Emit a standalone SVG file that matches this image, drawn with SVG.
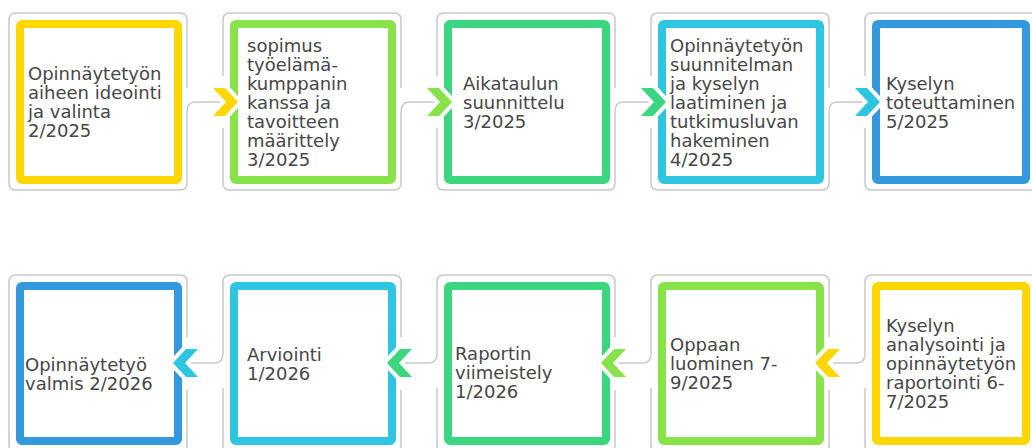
<svg xmlns="http://www.w3.org/2000/svg" width="1032" height="448" viewBox="0 0 1032 448">
<style>
.frame{fill:none;stroke:#c8c8c8;stroke-width:1.5}
.box{fill:#fff;stroke-width:8}
.lbl{font-family:"DejaVu Sans",sans-serif;font-size:18px;fill:#474747}
.line{fill:none;stroke:#c8c8c8;stroke-width:1.5}
.chev{stroke:#fff;stroke-width:8;stroke-linejoin:round;paint-order:stroke}
.yel{stroke:#FFD700}.lgr{stroke:#88E24A}.grn{stroke:#3DD680}.cya{stroke:#2DC5E0}.blu{stroke:#3498DC}
</style>
<rect width="1032" height="448" fill="#fff"/>
<g id="node-ideointi">
<rect class="box yel" x="20" y="24" width="158" height="156" rx="2"/>
<path class="frame" d="M187,88 L187,20 Q187,13 180,13 L16,13 Q9,13 9,20 L9,183 Q9,190 16,190 L180,190 Q187,190 187,183 L187,112"/>
<text class="lbl" x="28" y="80"><tspan x="28">Opinnäytetyön</tspan><tspan x="28" dy="19">aiheen ideointi</tspan><tspan x="28" dy="19">ja valinta</tspan><tspan x="28" dy="19">2/2025</tspan></text>
</g>
<g id="node-sopimus">
<rect class="box lgr" x="234" y="24" width="158" height="156" rx="2"/>
<path class="frame" d="M401,88 L401,20 Q401,13 394,13 L230,13 Q223,13 223,20 L223,76 M223,128 L223,183 Q223,190 230,190 L394,190 Q401,190 401,183 L401,112"/>
<text class="lbl" x="247" y="51.5"><tspan x="247">sopimus</tspan><tspan x="247" dy="19">työelämä-</tspan><tspan x="247" dy="19">kumppanin</tspan><tspan x="247" dy="19">kanssa ja</tspan><tspan x="247" dy="19">tavoitteen</tspan><tspan x="247" dy="19">määrittely</tspan><tspan x="247" dy="19">3/2025</tspan></text>
</g>
<g id="node-aikataulu">
<rect class="box grn" x="448" y="24" width="158" height="156" rx="2"/>
<path class="frame" d="M615,88 L615,20 Q615,13 608,13 L444,13 Q437,13 437,20 L437,76 M437,128 L437,183 Q437,190 444,190 L608,190 Q615,190 615,183 L615,112"/>
<text class="lbl" x="463" y="89.5"><tspan x="463">Aikataulun</tspan><tspan x="463" dy="19">suunnittelu</tspan><tspan x="463" dy="19">3/2025</tspan></text>
</g>
<g id="node-suunnitelma">
<rect class="box cya" x="662" y="24" width="158" height="156" rx="2"/>
<path class="frame" d="M829,88 L829,20 Q829,13 822,13 L658,13 Q651,13 651,20 L651,76 M651,128 L651,183 Q651,190 658,190 L822,190 Q829,190 829,183 L829,112"/>
<text class="lbl" x="670" y="51.5"><tspan x="670">Opinnäytetyön</tspan><tspan x="670" dy="19">suunnitelman</tspan><tspan x="670" dy="19">ja kyselyn</tspan><tspan x="670" dy="19">laatiminen ja</tspan><tspan x="670" dy="19">tutkimusluvan</tspan><tspan x="670" dy="19">hakeminen</tspan><tspan x="670" dy="19">4/2025</tspan></text>
</g>
<g id="node-toteutus">
<rect class="box blu" x="876" y="24" width="150" height="156" rx="2"/>
<path class="frame" d="M865,76 L865,20 Q865,13 872,13 L1030,13 Q1037,13 1037,20 L1037,183 Q1037,190 1030,190 L872,190 Q865,190 865,183 L865,128"/>
<text class="lbl" x="886" y="89.5"><tspan x="886">Kyselyn</tspan><tspan x="886" dy="19">toteuttaminen</tspan><tspan x="886" dy="19">5/2025</tspan></text>
</g>
<g id="node-valmis">
<rect class="box blu" x="20" y="286" width="158" height="155" rx="2"/>
<path class="frame" d="M187,390 L187,445 Q187,452 180,452 L16,452 Q9,452 9,445 L9,282 Q9,275 16,275 L180,275 Q187,275 187,282 L187,337"/>
<text class="lbl" x="25" y="371"><tspan x="25">Opinnäytetyö</tspan><tspan x="25" dy="19">valmis 2/2026</tspan></text>
</g>
<g id="node-arviointi">
<rect class="box cya" x="234" y="286" width="158" height="155" rx="2"/>
<path class="frame" d="M223,388 L223,445 Q223,452 230,452 L394,452 Q401,452 401,445 L401,390 M401,337 L401,282 Q401,275 394,275 L230,275 Q223,275 223,282 L223,353"/>
<text class="lbl" x="247" y="360.5"><tspan x="247">Arviointi</tspan><tspan x="247" dy="19">1/2026</tspan></text>
</g>
<g id="node-raportti">
<rect class="box grn" x="448" y="286" width="158" height="155" rx="2"/>
<path class="frame" d="M437,388 L437,445 Q437,452 444,452 L608,452 Q615,452 615,445 L615,390 M615,337 L615,282 Q615,275 608,275 L444,275 Q437,275 437,282 L437,353"/>
<text class="lbl" x="455" y="360"><tspan x="455">Raportin</tspan><tspan x="455" dy="19">viimeistely</tspan><tspan x="455" dy="19">1/2026</tspan></text>
</g>
<g id="node-opas">
<rect class="box lgr" x="662" y="286" width="158" height="155" rx="2"/>
<path class="frame" d="M651,388 L651,445 Q651,452 658,452 L822,452 Q829,452 829,445 L829,390 M829,337 L829,282 Q829,275 822,275 L658,275 Q651,275 651,282 L651,353"/>
<text class="lbl" x="670" y="351"><tspan x="670">Oppaan</tspan><tspan x="670" dy="19">luominen 7-</tspan><tspan x="670" dy="19">9/2025</tspan></text>
</g>
<g id="node-analysointi">
<rect class="box yel" x="876" y="286" width="150" height="155" rx="2"/>
<path class="frame" d="M865,388 L865,445 Q865,452 872,452 L1030,452 Q1037,452 1037,445 L1037,282 Q1037,275 1030,275 L872,275 Q865,275 865,282 L865,353"/>
<text class="lbl" x="886" y="332"><tspan x="886">Kyselyn</tspan><tspan x="886" dy="19">analysointi ja</tspan><tspan x="886" dy="19">opinnäytetyön</tspan><tspan x="886" dy="19">raportointi 6-</tspan><tspan x="886" dy="19">7/2025</tspan></text>
</g>
<g id="connectors">
<path class="line" d="M187,112 Q187,102 195,102 L222,102"/>
<path class="line" d="M401,112 Q401,102 409,102 L436,102"/>
<path class="line" d="M615,112 Q615,102 623,102 L650,102"/>
<path class="line" d="M829,112 Q829,102 837,102 L864,102"/>
<path class="line" d="M223,353 Q223,363 215,363 L189,363"/>
<path class="line" d="M437,353 Q437,363 429,363 L403,363"/>
<path class="line" d="M651,353 Q651,363 643,363 L617,363"/>
<path class="line" d="M865,353 Q865,363 857,363 L831,363"/>
<polygon class="chev" fill="#FFD700" points="213,88 225,88 238,102 225,116 213,116 226,102"/>
<polygon class="chev" fill="#88E24A" points="427,88 439,88 452,102 439,116 427,116 440,102"/>
<polygon class="chev" fill="#3DD680" points="641,88 653,88 666,102 653,116 641,116 654,102"/>
<polygon class="chev" fill="#2DC5E0" points="855,88 867,88 880,102 867,116 855,116 868,102"/>
<polygon class="chev" fill="#2DC5E0" points="198,349 186,349 173,363 186,377 198,377 185,363"/>
<polygon class="chev" fill="#3DD680" points="412,349 400,349 387,363 400,377 412,377 399,363"/>
<polygon class="chev" fill="#88E24A" points="626,349 614,349 601,363 614,377 626,377 613,363"/>
<polygon class="chev" fill="#FFD700" points="840,349 828,349 815,363 828,377 840,377 827,363"/>
</g>
</svg>
